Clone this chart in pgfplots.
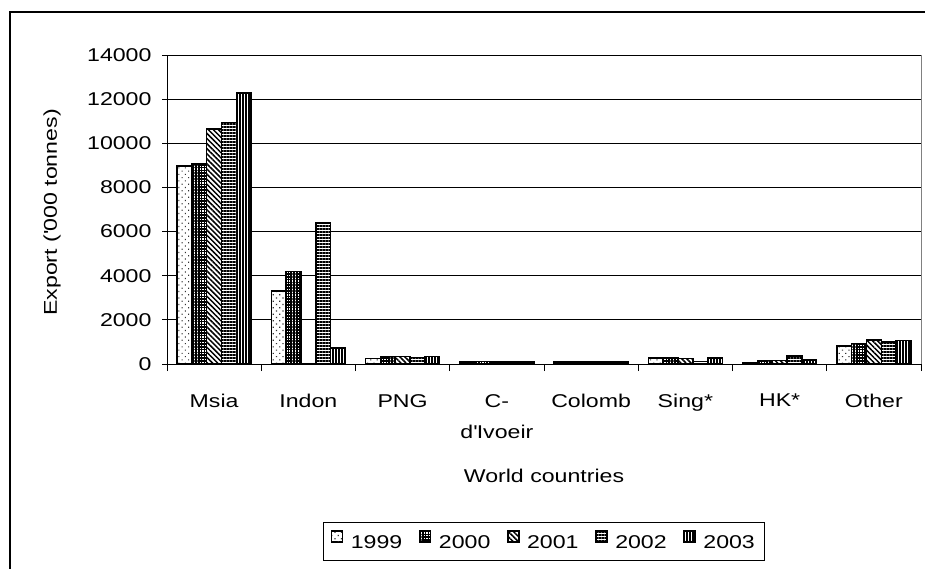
\documentclass[border=0pt]{standalone}
\usepackage{fontspec}
\setmainfont{Liberation Sans}[FakeStretch=1.25]
\usepackage{pgfplots}
\pgfplotsset{compat=1.18}
\usetikzlibrary{patterns.meta}

% fill styles for the five years (black and white print)
\tikzset{
  y1999/.style={pattern={Dots[distance=4.6pt, radius=0.8pt, angle=45]}, pattern color=black!80},
  y2000/.style={pattern={Hatch[distance=2.8pt, line width=1.6pt]}, pattern color=black},
  y2001/.style={pattern={Lines[angle=-45, distance=3.6pt, line width=1.5pt]}, pattern color=black},
  y2002/.style={pattern={Lines[angle=0, distance=3pt, line width=1.3pt]}, pattern color=black},
  y2003/.style={pattern={Lines[angle=90, distance=3pt, line width=1.2pt]}, pattern color=black},
}

\begin{document}
\begin{tikzpicture}[font=\fontsize{18.5}{22}\selectfont]
\useasboundingbox (0pt,0pt) rectangle (925pt,568pt);
% chart area frame
\draw[line width=2.2pt] (10pt,-20pt) -- (10pt,556pt) -- (960pt,556pt);
\begin{axis}[
  at={(167pt,204pt)}, anchor=south west,
  scale only axis, width=754pt, height=309pt,
  ybar=0pt, bar width=14.8pt,
  xmin=-0.5, xmax=7.5, ymin=0, ymax=14000,
  xtick={0,...,7},
  xticklabels={Msia,Indon,PNG,{C-\\d\textquotesingle Ivoeir},Colomb,Sing*,HK*,Other},
  minor xtick={-0.5,0.5,...,7.5},
  ytick={0,2000,...,14000},
  scaled y ticks=false,
  ymajorgrids,
  major grid style={black, line width=0.8pt},
  axis x line*=bottom, axis y line*=left,
  axis line style={black, line width=0.9pt},
  tick align=outside,
  major tick length=5pt,
  minor tick length=7pt,
  major x tick style={draw=none},
  minor x tick style={black, line width=0.9pt},
  major y tick style={black, line width=0.9pt},
  /pgf/number format/assume math mode=true,
  /pgf/number format/1000 sep={},
  yticklabel style={xshift=-7pt},
  xticklabel style={align=center, anchor=north, inner sep=0pt, yshift=-25pt,
    font=\fontsize{18.5}{31}\selectfont},
  ylabel={Export (\textquotesingle 000 tonnes)},
  every axis y label/.style={at={(rel axis cs:0,0.5)}, xshift=-110pt, yshift=-3pt, rotate=90, anchor=base},
  xlabel={World countries},
  every axis x label/.style={at={(rel axis cs:0.5,0)}, yshift=-118.5pt, anchor=base},
  legend columns=5,
  legend style={at={(rel axis cs:0.5,0)}, anchor=center, yshift=-177.5pt,
    draw=black, line width=0.8pt, inner xsep=8pt, inner ysep=8pt,
    /tikz/every odd column/.append style={column sep=6pt},
    /tikz/every even column/.append style={column sep=15pt}},
  legend image code/.code={\draw[#1, line width=0.7pt] (0pt,1pt) rectangle (11pt,12pt);},
  extra description/.code={\draw[black!50, line width=1pt] (rel axis cs:1,0) -- (rel axis cs:1,1);},
]
% values in '000 tonnes: Msia, Indon, PNG, C-d'Ivoeir, Colomb, Sing*, HK*, Other
\addplot[draw=black, line width=1.5pt, preaction={fill=white}, y1999] coordinates
  {(0,8960) (1,3300) (2,240) (3,100) (4,80) (5,270) (6,70) (7,810)};
\addplot[draw=black, line width=1.5pt, preaction={fill=white}, y2000] coordinates
  {(0,9060) (1,4180) (2,340) (3,110) (4,90) (5,270) (6,150) (7,920)};
\addplot[draw=black, line width=1.5pt, preaction={fill=white}, y2001] coordinates
  {(0,10650) (1,0) (2,330) (3,100) (4,90) (5,260) (6,150) (7,1090)};
\addplot[draw=black, line width=1.5pt, preaction={fill=white}, y2002] coordinates
  {(0,10940) (1,6390) (2,300) (3,100) (4,100) (5,120) (6,360) (7,990)};
\addplot[draw=black, line width=1.5pt, preaction={fill=white}, y2003] coordinates
  {(0,12280) (1,720) (2,330) (3,100) (4,90) (5,270) (6,190) (7,1070)};
\legend{1999,2000,2001,2002,2003}
\end{axis}
\end{tikzpicture}
\end{document}
